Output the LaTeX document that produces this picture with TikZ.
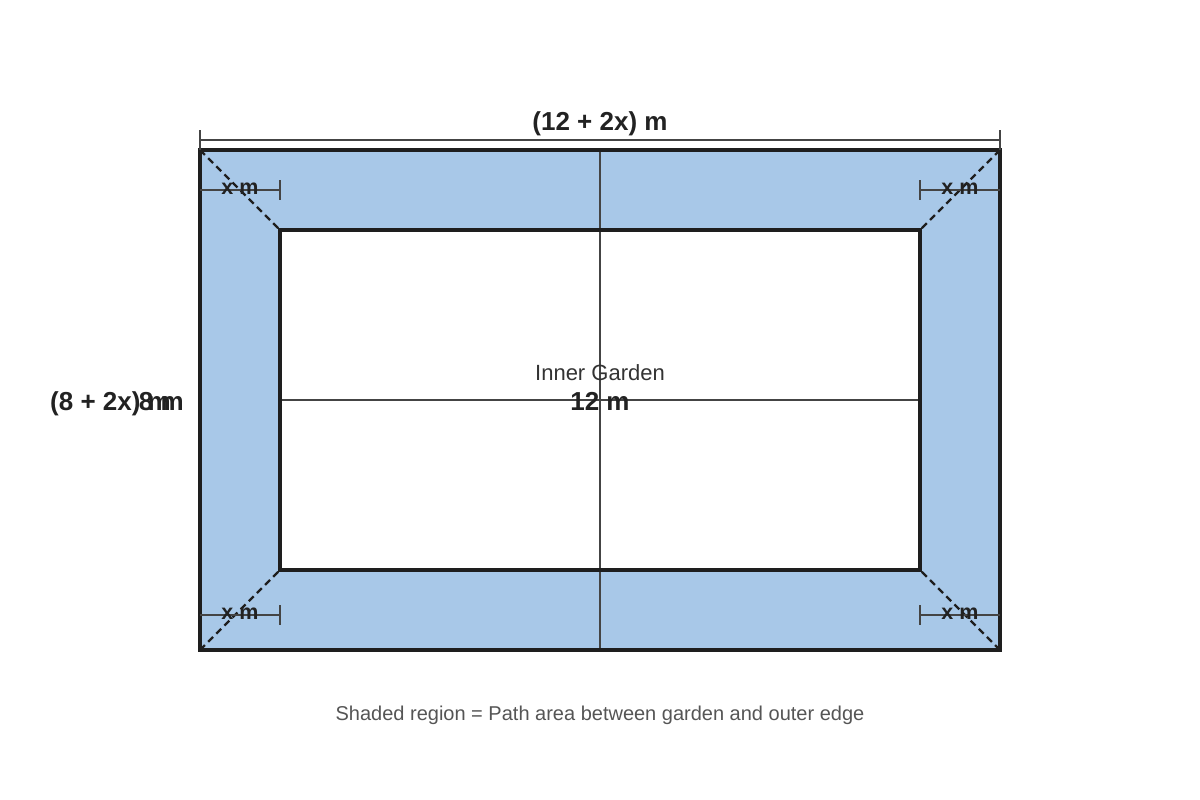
\documentclass[tikz,border=0pt]{standalone}
\usepackage{fontspec}
\setmainfont{Liberation Sans}
\definecolor{pathblue}{HTML}{A8C8E8}
\definecolor{edge}{HTML}{1E1E1E}
\definecolor{dimc}{HTML}{444444}
\definecolor{txtc}{HTML}{222222}
\definecolor{capc}{HTML}{555555}
\definecolor{lblc}{HTML}{333333}
\begin{document}
\begin{tikzpicture}[x=1pt,y=-1pt,
  border/.style={draw=edge,line width=3.2pt},
  dimline/.style={draw=dimc,line width=1.8pt},
  midline/.style={draw=dimc,line width=1.8pt},
  diag/.style={draw=edge,line width=2.2pt,dash pattern=on 7pt off 4.5pt},
  boldlbl/.style={font=\fontsize{26}{30}\selectfont\bfseries,text=txtc,inner sep=0pt},
  xlbl/.style={font=\fontsize{21.5}{25}\selectfont\bfseries,text=txtc,inner sep=0pt},
]
\useasboundingbox (0,0) rectangle (1200,800);
\fill[white] (0,0) rectangle (1200,800);
% outer and inner
\coordinate (o1) at (200,150);
\coordinate (o2) at (1000,150);
\coordinate (o3) at (1000,650);
\coordinate (o4) at (200,650);
\coordinate (i1) at (280,230);
\coordinate (i2) at (920,230);
\coordinate (i3) at (920,570);
\coordinate (i4) at (280,570);
\fill[pathblue] (o1) rectangle (o3);
\fill[white] (i1) rectangle (i3);
% center lines
\coordinate (vt) at (600,150);
\coordinate (vb) at (600,650);
\coordinate (hl) at (280,400);
\coordinate (hr) at (920,400);
\draw[midline] (vt) -- (vb);
\draw[midline] (hl) -- (hr);
% diagonals
\draw[diag] (o1) -- (i1);
\draw[diag] (o2) -- (i2);
\draw[diag] (o3) -- (i3);
\draw[diag] (o4) -- (i4);
\draw[border] (o1) rectangle (o3);
\draw[border] (i1) rectangle (i3);
% top dimension
\coordinate (ta) at (200,140);
\coordinate (tb) at (1000,140);
\draw[dimline] (ta) -- (tb);
\draw[dimline] (200,130) -- (200,150);
\draw[dimline] (1000,130) -- (1000,150);
\node[boldlbl,anchor=base] (toplbl) at (600,130) {(12 + 2x) m};
% x m dims
\coordinate (a1) at (200,190); \coordinate (a2) at (280,190);
\draw[dimline] (a1) -- (a2); \draw[dimline] (280,180) -- (280,200);
\node[xlbl] (xm1) at (240,189) {x m};
\coordinate (b1) at (920,190); \coordinate (b2) at (1000,190);
\draw[dimline] (b1) -- (b2); \draw[dimline] (920,180) -- (920,200);
\node[xlbl] (xm2) at (960,189) {x m};
\coordinate (c1) at (200,615); \coordinate (c2) at (280,615);
\draw[dimline] (c1) -- (c2); \draw[dimline] (280,605) -- (280,625);
\node[xlbl] (xm3) at (240,614) {x m};
\coordinate (d1) at (920,615); \coordinate (d2) at (1000,615);
\draw[dimline] (d1) -- (d2); \draw[dimline] (920,605) -- (920,625);
\node[xlbl] (xm4) at (960,614) {x m};
% left labels
\node[boldlbl,anchor=base west] (leftlbl) at (50,410) {(8 + 2x) m};
\node[boldlbl,anchor=base east] (eightm) at (184,410) {8 m};
% center labels
\node[font=\fontsize{22}{26}\selectfont,text=lblc,inner sep=0pt] (inner) at (600,373) {Inner Garden};
\node[boldlbl,anchor=base] (twelve) at (600,410) {12 m};
% caption
\node[font=\fontsize{20}{24}\selectfont,text=capc,inner sep=0pt] (cap) at (600,715) {Shaded region = Path area between garden and outer edge};
\end{tikzpicture}
\end{document}
